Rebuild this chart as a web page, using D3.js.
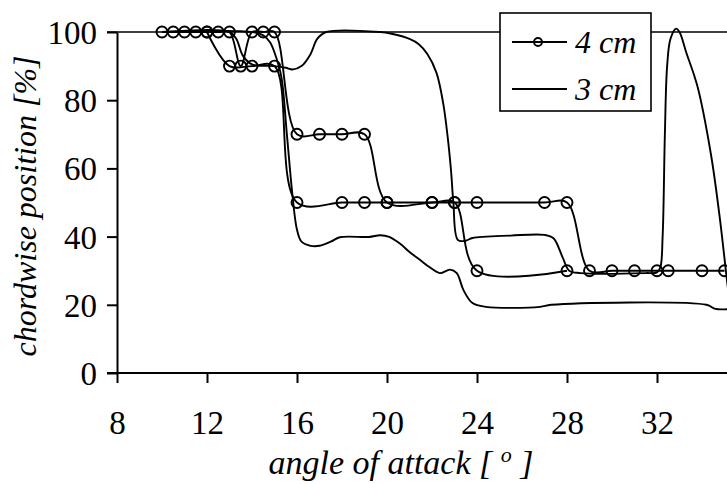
<!DOCTYPE html>
<html>
<head>
<meta charset="utf-8">
<script src="https://cdn.jsdelivr.net/npm/d3@7"></script>
<style>
body { margin: 0; background: #fff; font-family: "Liberation Serif", serif; }
.tick text { font-size: 33px; }
.title { font-size: 34px; font-style: italic; }
.ytitle { font-size: 32px; }
.leg { font-size: 32px; font-style: italic; }
path.series { fill: none; stroke: #000; stroke-width: 1.9; }
circle.mk { fill: none; stroke: #000; stroke-width: 1.9; }
</style>
</head>
<body>
<div id="chart"></div>
<script>
var xTicks = [8, 12, 16, 20, 24, 28, 32];
var yTicks = [0, 20, 40, 60, 80, 100];

// 4 cm, two runs (markers)
var a4Angle = [10, 10.5, 11, 11.5, 12, 12.5, 13, 13.5, 14, 14.5, 15, 16, 17, 18, 19, 20, 22, 23, 24, 28];
var a4Pos   = [100, 100, 100, 100, 100, 100, 100, 90, 100, 100, 100, 70, 70, 70, 70, 50, 50, 50, 30, 30];
var b4Angle = [12, 13, 14, 15, 16, 18, 19, 20, 22, 23, 24, 27, 28, 29, 30, 31, 32, 32.5, 34, 35];
var b4Pos   = [100, 90, 90, 90, 50, 50, 50, 50, 50, 50, 50, 50, 50, 30, 30, 30, 30, 30, 30, 30];

// 3 cm, two runs (no markers)
var a3Angle = [10, 13, 13.3, 13.6, 14, 15, 15.5, 15.8, 16.2, 16.6, 16.9, 17.3, 19.7, 20.2, 21, 21.4, 21.8, 22.2, 22.5, 22.7, 22.85, 22.95, 23.15, 23.5, 23.8, 25.5, 27, 27.4, 27.8, 28.1, 28.6, 31.5, 32, 32.15, 32.25, 32.35, 32.45, 32.6, 32.85, 33, 33.3, 33.8, 34.4, 34.8, 35.15, 35.3];
var a3Pos   = [100, 100, 98, 93, 90.5, 90, 89.5, 89, 90, 93.5, 98, 100, 100, 99.5, 98, 96.5, 93.5, 88, 79, 69, 59, 50, 39, 38.8, 39.6, 40.3, 40.5, 39.5, 34, 30, 29.3, 29.3, 29.5, 31, 40, 70, 90, 98, 101, 100, 94, 84, 64, 45, 25, 18];
var b3Angle = [10, 14, 14.5, 14.8, 15, 15.3, 15.55, 15.8, 16, 16.2, 16.6, 17, 17.5, 17.9, 19.2, 19.7, 20.1, 20.6, 21, 21.5, 21.9, 22.35, 22.8, 23.1, 23.4, 23.8, 24.4, 26.8, 27.3, 34.2, 34.6, 35.3];
var b3Pos   = [100, 100, 99, 97, 94, 87, 70, 52, 42, 38.5, 37.3, 37.3, 38.5, 39.8, 39.9, 40.4, 39.9, 37.8, 35.5, 33, 31, 29.3, 30.3, 29.3, 24.3, 20.5, 19.4, 19.4, 20, 20, 18.8, 18.8];

var legendLabels = ["4 cm", "3 cm"];

var FONT = "Liberation Serif, serif";
var W = 727, H = 484;
var x = d3.scaleLinear().domain([8, 36]).range([117, 747]);
var y = d3.scaleLinear().domain([0, 100]).range([373, 32]);

var svg = d3.select("#chart").append("svg").attr("width", W).attr("height", H)
  .attr("font-family", FONT);

function pts(a, p) { return a.map(function(d, i) { return [d, p[i]]; }); }

// top border of plot area at 100
svg.append("line").attr("x1", 107).attr("x2", W).attr("y1", y(100)).attr("y2", y(100))
  .attr("stroke", "#000").attr("stroke-width", 1.6);

var xAxis = svg.append("g").attr("transform", "translate(0," + y(0) + ")")
  .call(d3.axisBottom(x).tickValues(xTicks).tickSize(10).tickPadding(28).tickSizeOuter(0));
xAxis.select(".domain").attr("d", "M107,0H" + W).attr("stroke-width", 2);
xAxis.selectAll(".tick line").attr("stroke-width", 2);

var yAxis = svg.append("g").attr("transform", "translate(" + x(8) + ",0)")
  .call(d3.axisLeft(y).tickValues(yTicks).tickSize(10).tickPadding(10).tickSizeOuter(0));
yAxis.select(".domain").attr("stroke-width", 2);
yAxis.selectAll(".tick line").attr("stroke-width", 2);
yAxis.selectAll(".tick text").attr("dy", "0.35em");
svg.selectAll("g").attr("font-family", FONT).attr("font-size", null);

var line = d3.line().x(function(d) { return x(d[0]); }).y(function(d) { return y(d[1]); })
  .curve(d3.curveCatmullRom.alpha(0.5));

var series = [pts(a3Angle, a3Pos), pts(b3Angle, b3Pos), pts(a4Angle, a4Pos), pts(b4Angle, b4Pos)];
svg.selectAll("path.series").data(series).enter().append("path")
  .attr("class", "series").attr("d", line);

[pts(a4Angle, a4Pos), pts(b4Angle, b4Pos)].forEach(function(s) {
  svg.append("g").selectAll("circle").data(s).enter().append("circle")
    .attr("class", "mk").attr("cx", function(d) { return x(d[0]); })
    .attr("cy", function(d) { return y(d[1]); }).attr("r", 5.5);
});

// axis titles
var xt = svg.append("text").attr("class", "title").attr("x", 401).attr("y", 474)
  .attr("text-anchor", "middle");
xt.append("tspan").text("angle of attack [ ");
xt.append("tspan").attr("dy", -12).attr("font-size", 22).text("o");
xt.append("tspan").attr("dy", 12).text(" ]");

svg.append("text").attr("class", "title ytitle").attr("transform", "translate(36,206) rotate(-90)")
  .attr("text-anchor", "middle").text("chordwise position [%]");

// legend
var lg = svg.append("g");
lg.append("rect").attr("x", 500).attr("y", 13).attr("width", 151).attr("height", 98)
  .attr("fill", "#fff").attr("stroke", "#000").attr("stroke-width", 1.6);
legendLabels.forEach(function(t, i) {
  var ly = 42 + i * 47;
  lg.append("line").attr("x1", 512).attr("x2", 567).attr("y1", ly).attr("y2", ly)
    .attr("stroke", "#000").attr("stroke-width", 1.9);
  if (i === 0) lg.append("circle").attr("class", "mk").attr("cx", 538).attr("cy", ly).attr("r", 4);
  lg.append("text").attr("class", "leg").attr("x", 575).attr("y", ly + 11).text(t);
});

svg.selectAll("text").style("font-family", FONT).attr("fill", "#000");
</script>
</body>
</html>
